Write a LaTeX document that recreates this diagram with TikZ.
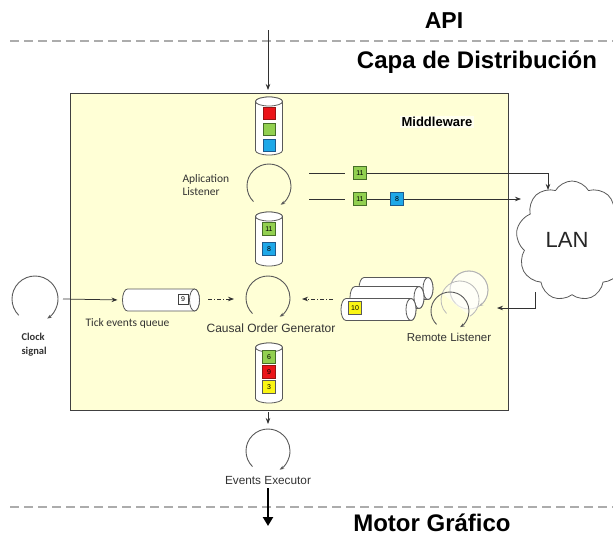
\documentclass[tikz,border=0pt]{standalone}
\usepackage{fontspec}
\setmainfont{Liberation Sans}
\newfontfamily\calfont{Carlito}
\usetikzlibrary{shapes.symbols,arrows.meta}

\definecolor{mwfill}{RGB}{255,255,214}
\definecolor{evgreen}{RGB}{146,208,80}
\definecolor{evgreenb}{RGB}{70,110,40}
\definecolor{evred}{RGB}{235,20,25}
\definecolor{evredb}{RGB}{150,20,20}
\definecolor{evblue}{RGB}{30,168,232}
\definecolor{evblueb}{RGB}{30,90,140}
\definecolor{evyellow}{RGB}{250,245,20}
\definecolor{lineg}{RGB}{50,50,50}
\definecolor{ringg}{RGB}{90,90,90}

% upright queue: outline round a named frame node, open ellipse on top
\newcommand\drawvcyl[1]{%
  \draw[cylline] ([yshift=-4.5pt]#1.north west) -- ([yshift=4.5pt]#1.south west)
    arc[start angle=180, end angle=360, x radius=13.5pt, y radius=4.5pt]
    -- ([yshift=-4.5pt]#1.north east)
    arc[start angle=0, end angle=180, x radius=13.5pt, y radius=4.5pt] -- cycle;
  \draw[cylline] ([yshift=-4.5pt]#1.north) ellipse[x radius=13.5pt, y radius=4.5pt];}
% lying queue: open ellipse on the right end
\newcommand\drawhcyl[1]{%
  \draw[cylline] ([xshift=5pt]#1.north west) -- ([xshift=-5pt]#1.north east)
    arc[start angle=90, end angle=-90, x radius=5pt, y radius=11pt]
    -- ([xshift=5pt]#1.south west)
    arc[start angle=270, end angle=90, x radius=5pt, y radius=11pt] -- cycle;
  \draw[cylline] ([xshift=-5pt]#1.east) ellipse[x radius=5pt, y radius=11pt];}

\begin{document}
\begin{tikzpicture}[x=1pt,y=-1pt,
  conn/.style={draw=lineg, line width=0.75pt},
  tip/.style={-{Stealth[length=6pt,width=4.5pt]}},
  dashdot/.style={conn, dash pattern=on 4pt off 2pt on 1pt off 2pt},
  layer/.style={draw=gray!65, line width=1.1pt, dash pattern=on 9pt off 5pt},
  title/.style={font=\bfseries\fontsize{23}{26}\selectfont, anchor=base},
  evt/.style={draw, line width=0.6pt, minimum size=13pt, inner sep=0pt,
              font=\fontsize{7}{8}\selectfont},
  gsq/.style={evt, fill=evgreen, draw=evgreenb},
  rsq/.style={evt, fill=evred, draw=evredb},
  bsq/.style={evt, fill=evblue, draw=evblueb},
  ysq/.style={evt, fill=evyellow, draw=gray!70!black},
  frame/.style={rectangle, inner sep=0pt, outer sep=0pt},
  cylline/.style={draw=gray!70!black, fill=white, line width=0.8pt},
  ring/.style={circle, inner sep=0pt, outer sep=0pt},
  ringarc/.style={draw=ringg, line width=0.9pt,
                  -{Stealth[length=4.5pt,width=3.5pt]}},
  lbl/.style={font=\fontsize{12}{14}\selectfont, text=black!80},
  clbl/.style={font=\calfont\fontsize{11.5}{13.5}\selectfont, text=black!80,
               align=left}
]
\useasboundingbox (0,0) rectangle (613,536);

% layer boundaries and titles
\draw[layer] (10,41) -- (613,41);
\draw[layer] (10,507) -- (613,507);
\node[title] (api) at (444,28) {API};
\node[title, font=\bfseries\fontsize{24}{27}\selectfont] (capa) at (477,68) {Capa de Distribución};
\node[title, font=\bfseries\fontsize{24}{27}\selectfont] (motor) at (432,531) {Motor Gráfico};

% middleware container
\node[draw=black!75, line width=1pt, fill=mwfill, minimum width=438pt,
      minimum height=317pt, inner sep=0pt] (mw) at (289,251.5) {};
\node[font=\bfseries\fontsize{13}{15}\selectfont, fill=white!60!mwfill,
      inner sep=1.5pt] (mwlabel) at (437,122) {Middleware};

% incoming API calls
\coordinate (apiin) at (268,30);
\coordinate (apiend) at (268,90);
\draw[conn, tip] (apiin) -- (apiend);

% application queue
\node[frame, minimum width=27pt, minimum height=58pt] (q1) at (269,126) {};
\drawvcyl{q1}
\node[evt, fill=evred, draw=evredb, minimum size=12pt] (q1a) at (269,113) {};
\node[evt, fill=evgreen, draw=evgreenb, minimum size=12pt] (q1b) at (269,129) {};
\node[evt, fill=evblue, draw=evblueb, minimum size=12pt] (q1c) at (269,145) {};

% application listener
\node[ring, minimum size=44pt] (appl) at (269,186) {};
\draw[ringarc] (appl.225) arc[start angle=225, end angle=-58, radius=22pt];
\node[clbl, anchor=west] (appllbl) at (179,185) {Aplication\\Listener};

% outgoing messages to the LAN
\coordinate (w1s) at (309,173);
\coordinate (w1e) at (345,173);
\node[gsq] (m11a) at (360,173) {11};
\coordinate (w1k) at (548,173);
\coordinate (w1t) at (548,190);
\draw[conn] (w1s) -- (w1e);
\draw[conn, tip] (m11a.east) -- (w1k) -- (w1t);

\coordinate (w2s) at (309,199);
\coordinate (w2e) at (345,199);
\node[gsq] (m11b) at (360,199) {11};
\node[bsq] (m8b) at (397,199) {8};
\coordinate (w2t) at (521,199);
\draw[conn] (w2s) -- (w2e);
\draw[conn] (m11b.east) -- (m8b.west);
\draw[conn, tip] (m8b.east) -- (w2t);

% local sent queue
\node[frame, minimum width=27pt, minimum height=54pt] (q2) at (269,239) {};
\drawvcyl{q2}
\node[gsq] (q2a) at (269,229) {11};
\node[bsq] (q2b) at (269,249) {8};

% LAN cloud
\node[cloud, draw=gray!70!black, line width=0.8pt, fill=white,
      cloud puffs=9, cloud puff arc=120, minimum width=112pt,
      minimum height=120pt, aspect=0.9] (lan) at (572,241) {};
\node[font=\fontsize{22}{24}\selectfont, text=black!85] (lantxt) at (567,240) {LAN};

% remote listener input
\coordinate (rin0) at (535,292);
\coordinate (rin1) at (535,308);
\coordinate (rin2) at (497,308);
\draw[conn, tip] (rin0) -- (rin1) -- (rin2);

% remote listeners (stacked)
\node[ring, minimum size=38pt] (rl3) at (469,290) {};
\node[ring, minimum size=38pt] (rl2) at (460,300) {};
\node[ring, minimum size=38pt] (rl1) at (450,311) {};
\draw[draw=gray!45, fill=white, fill opacity=0.7, line width=0.8pt] (rl3) circle[radius=19pt];
\draw[draw=gray!60, line width=0.8pt, -{Stealth[length=4pt,width=3pt]}] (rl3.225) arc[start angle=225, end angle=-58, radius=19pt];
\draw[draw=gray!55, fill=white, fill opacity=0.5, line width=0.8pt] (rl2.160) arc[start angle=160, end angle=-58, radius=19pt];
\draw[draw=gray!55, line width=0.8pt] (rl2.225) arc[start angle=225, end angle=160, radius=19pt];
\draw[ringarc] (rl1.225) arc[start angle=225, end angle=-58, radius=19pt];
\node[lbl, font=\fontsize{11.5}{13}\selectfont] (rllbl) at (449,337) {Remote Listener};

% remote event queues (stacked)
\node[frame, minimum width=74pt, minimum height=22pt] (rq3) at (396,288.5) {};
\drawhcyl{rq3}
\node[frame, minimum width=74pt, minimum height=22pt] (rq2) at (387,297.5) {};
\drawhcyl{rq2}
\node[frame, minimum width=75pt, minimum height=22pt] (rq1) at (378.5,309.5) {};
\drawhcyl{rq1}
\node[ysq] (m10) at (355,308) {10};

% causal order generator
\node[ring, minimum size=44pt] (cog) at (268,298) {};
\draw[ringarc] (cog.225) arc[start angle=225, end angle=-58, radius=22pt];
\node[lbl] (coglbl) at (271,328) {Causal Order Generator};
\coordinate (rqout) at (333,299);
\coordinate (cogin) at (302,299);
\draw[dashdot, tip] (rqout) -- (cogin);

% clock and tick queue
\node[ring, minimum size=46pt] (clk) at (35,299) {};
\draw[ringarc] (clk.225) arc[start angle=225, end angle=-58, radius=23pt];
\node[clbl, font=\calfont\bfseries\fontsize{10.5}{14}\selectfont, anchor=west] (clklbl) at (18,345) {Clock\\signal};
\node[frame, minimum width=77pt, minimum height=22pt] (tq) at (161,300) {};
\drawhcyl{tq}
\node[evt, draw=black!75, fill=white, minimum size=10pt] (m9) at (183,299) {9};
\node[clbl, anchor=west] (tqlbl) at (82,323) {Tick events queue};
\coordinate (clkout) at (63,299);
\draw[conn, tip, shorten >=5pt] (clkout) -- (tq.west);
\coordinate (tqout) at (208,299);
\coordinate (cogw) at (234,299);
\draw[dashdot, tip] (tqout) -- (cogw);

% ordered events queue
\node[frame, minimum width=27pt, minimum height=60pt] (q3) at (269,373) {};
\drawvcyl{q3}
\node[gsq] (q3a) at (269,357) {6};
\node[rsq] (q3b) at (269,372) {9};
\node[ysq] (q3c) at (269,387) {3};

% events executor
\coordinate (exin0) at (268,412);
\coordinate (exin1) at (268,424);
\draw[conn, tip] (exin0) -- (exin1);
\node[ring, minimum size=44pt] (exe) at (268,451) {};
\draw[ringarc] (exe.225) arc[start angle=225, end angle=-58, radius=22pt];
\node[lbl, font=\fontsize{11.8}{13}\selectfont] (exelbl) at (268,480) {Events Executor};
\coordinate (exout0) at (268,488);
\coordinate (exout1) at (268,526);
\draw[draw=black, line width=2.6pt, -{Triangle[length=9pt,width=10pt]}] (exout0) -- (exout1);
\end{tikzpicture}
\end{document}
